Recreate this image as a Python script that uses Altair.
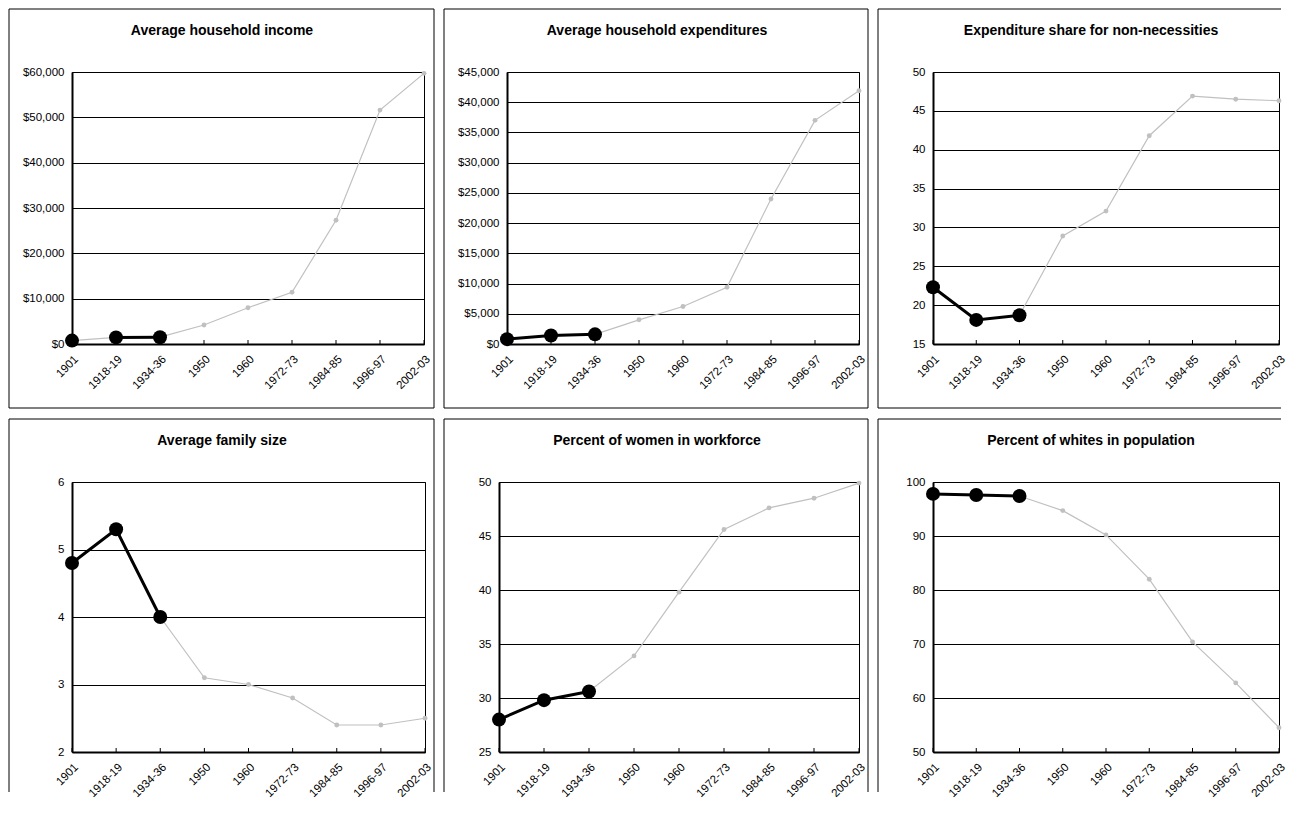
import altair as alt
import pandas as pd

periods = ["1901", "1918-19", "1934-36", "1950", "1960", "1972-73", "1984-85", "1996-97", "2002-03"]

income = [750, 1450, 1500, 4200, 8000, 11400, 27300, 51600, 59700]
expenditures = [800, 1400, 1600, 4000, 6200, 9400, 24000, 37000, 41900]
nonnecessities = [22.3, 18.1, 18.7, 28.9, 32.1, 41.8, 46.9, 46.5, 46.3]
family_size = [4.8, 5.3, 4.0, 3.1, 3.0, 2.8, 2.4, 2.4, 2.5]
women_workforce = [28.0, 29.8, 30.6, 33.9, 39.8, 45.6, 47.6, 48.5, 49.9]
whites_population = [97.8, 97.6, 97.4, 94.7, 90.2, 82.0, 70.4, 62.8, 54.5]

titles = [
    "Average household income",
    "Average household expenditures",
    "Expenditure share for non-necessities",
    "Average family size",
    "Percent of women in workforce",
    "Percent of whites in population",
]

income_ticks = [0, 10000, 20000, 30000, 40000, 50000, 60000]
expend_ticks = [0, 5000, 10000, 15000, 20000, 25000, 30000, 35000, 40000, 45000]
share_ticks = [15, 20, 25, 30, 35, 40, 45, 50]
family_ticks = [2, 3, 4, 5, 6]
women_ticks = [25, 30, 35, 40, 45, 50]
whites_ticks = [50, 60, 70, 80, 90, 100]

highlight_n = 3  # first three periods drawn in black

GRAY = "#C0C0C0"
FONT = "Liberation Sans"
H_TOP = 272
H_BOT = 270
one = pd.DataFrame({"d": [0]})


def panel(title, values, ticks, fmt, width, height, left, right, bottom_y,
          right_border, bottom_border, line_start, title_x):
    df = pd.DataFrame({"period": periods, "value": values})
    df["hl"] = [v if i < highlight_n else None for i, v in enumerate(values)]
    df["hl_line"] = [v if line_start <= i < highlight_n else None
                     for i, v in enumerate(values)]

    x_enc = alt.X(
        "period:N", sort=periods,
        scale=alt.Scale(type="point", padding=0),
        axis=alt.Axis(title=None, labelAngle=-45, ticks=False, tickSize=0,
                      labelPadding=9, labelOverlap=False, grid=False),
    )
    y_scale = alt.Scale(domain=[ticks[0], ticks[-1]], nice=False, zero=False)
    y_axis = alt.Axis(values=ticks, format=fmt, title=None, ticks=False,
                      tickSize=0, labelPadding=8, grid=True)

    base = alt.Chart(df)
    gray_line = base.mark_line(color=GRAY, strokeWidth=1.2).encode(
        x=x_enc, y=alt.Y("value:Q", scale=y_scale, axis=y_axis))
    gray_pts = base.mark_circle(color=GRAY, size=24, opacity=1).encode(
        x=x_enc, y=alt.Y("value:Q", scale=y_scale, axis=y_axis))
    black_line = base.mark_line(color="black", strokeWidth=3).encode(
        x=x_enc, y=alt.Y("hl_line:Q", scale=y_scale, axis=y_axis))
    black_pts = base.mark_circle(color="black", size=195, opacity=1).encode(
        x=x_enc, y=alt.Y("hl:Q", scale=y_scale, axis=y_axis))
    tick_rules = base.mark_rule(color="black", strokeWidth=1).encode(
        x=x_enc, y=alt.value(height), y2=alt.value(height - 4))

    top_y = -63
    borders = []
    b = alt.Chart(one).mark_rule(color="black", strokeWidth=1)
    borders.append(b.encode(x=alt.value(left), x2=alt.value(right),
                            y=alt.value(top_y), y2=alt.value(top_y)))
    borders.append(b.encode(x=alt.value(left), x2=alt.value(left),
                            y=alt.value(top_y), y2=alt.value(bottom_y)))
    if right_border:
        borders.append(b.encode(x=alt.value(right), x2=alt.value(right),
                                y=alt.value(top_y), y2=alt.value(bottom_y)))
    if bottom_border:
        borders.append(b.encode(x=alt.value(left), x2=alt.value(right),
                                y=alt.value(bottom_y), y2=alt.value(bottom_y)))

    title_text = alt.Chart(one).mark_text(
        text=title, font=FONT, fontSize=14, fontWeight="bold",
        align="center", baseline="alphabetic", color="black",
    ).encode(x=alt.value(title_x), y=alt.value(-37))

    return alt.layer(gray_line, gray_pts, black_line, black_pts, tick_rules,
                     *borders, title_text).properties(width=width, height=height)


p1 = panel(titles[0], income, income_ticks, "$,.0f", 352, H_TOP, -63, 362, H_TOP + 64, True, True, 1, 150)
p2 = panel(titles[1], expenditures, expend_ticks, "$,.0f", 352, H_TOP, -63, 361, H_TOP + 64, True, True, 0, 150)
p3 = panel(titles[2], nonnecessities, share_ticks, "d", 346, H_TOP, -55, 348, H_TOP + 64, False, True, 0, 158)
p4 = panel(titles[3], family_size, family_ticks, "d", 353, H_BOT, -63, 362, H_BOT + 40, True, False, 0, 150)
p5 = panel(titles[4], women_workforce, women_ticks, "d", 360, H_BOT, -55, 369, H_BOT + 40, True, False, 0, 158)
p6 = panel(titles[5], whites_population, whites_ticks, "d", 346, H_BOT, -55, 348, H_BOT + 40, False, False, 0, 158)

top = alt.hconcat(p1, p2, p3, spacing=8)
bottom = alt.hconcat(p4, p5, p6, spacing=8)

chart = alt.vconcat(top, bottom, spacing=9).properties(
    padding={"left": 0, "top": 0, "right": 0, "bottom": 0},
    background="white",
).configure_view(
    stroke="black", strokeWidth=1
).configure_axis(
    labelFont=FONT, labelFontSize=11.5, labelColor="black",
    domainColor="black", domainWidth=2,
    gridColor="black", gridWidth=1, gridOpacity=1,
)

chart.save("out.html", embed_options={"renderer": "svg", "actions": False})
